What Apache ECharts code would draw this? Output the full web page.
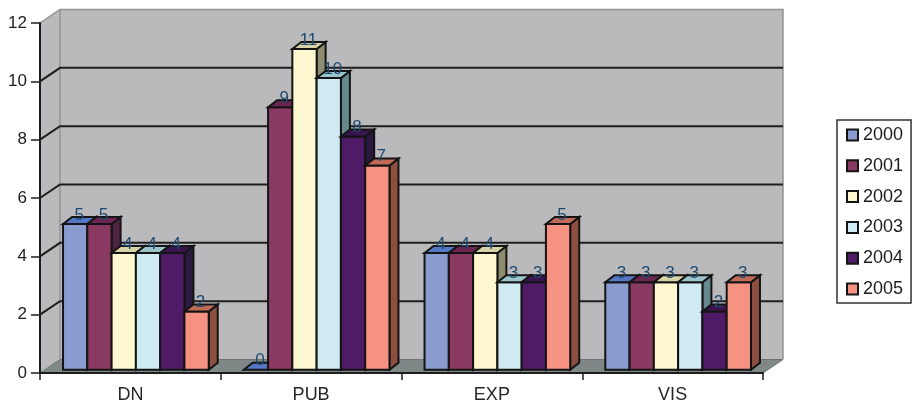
<!DOCTYPE html>
<html>
<head>
<meta charset="utf-8">
<style>html,body{margin:0;padding:0;background:#fff}#chart{width:912px;height:404px}</style>
<script src="https://cdn.jsdelivr.net/npm/echarts@6/dist/echarts.min.js"></script>
</head>
<body>
<div id="chart"></div>
<script>
const categories = ['DN', 'PUB', 'EXP', 'VIS'];
const years = ['2000', '2001', '2002', '2003', '2004', '2005'];
const values2000 = [5, 0, 4, 3];
const values2001 = [5, 9, 4, 3];
const values2002 = [4, 11, 4, 3];
const values2003 = [4, 10, 3, 3];
const values2004 = [4, 8, 3, 2];
const values2005 = [2, 7, 5, 3];
const yearValues = [values2000, values2001, values2002, values2003, values2004, values2005];
const yTicks = [0, 2, 4, 6, 8, 10, 12];

// Front, side and top face shades for each year
const frontColors = ['#8a9bcf', '#8a3a62', '#fdf8d0', '#d0eaf4', '#4f1a66', '#f59282'];
const sideColors = ['#4a5478', '#4f2440', '#8d8c6e', '#65898c', '#2a1a40', '#8d5040'];
const topColors = ['#5577c4', '#6c2550', '#d8d3a6', '#9cc4cc', '#3a1550', '#c06a58'];

// Oblique projection of the 3D box
const wallDx = 20, wallDy = 13.5;
const barDx = 9, barDy = 7;
const groupShare = 0.806;
const edge = { stroke: '#141414', lineWidth: 2 };

function renderWalls(params, api) {
  if (params.dataIndex !== 0) return null;
  const c = params.coordSys;
  const l = c.x, r = c.x + c.width, b = c.y + c.height;
  const children = [
    { type: 'polygon', shape: { points: [[l, c.y], [l + wallDx, c.y - wallDy], [r + wallDx, c.y - wallDy], [r + wallDx, b - wallDy], [l + wallDx, b - wallDy], [l, b]] },
      style: { fill: '#bababc', stroke: null } },
    { type: 'polygon', shape: { points: [[l, b], [l + wallDx, b - wallDy], [r + wallDx, b - wallDy], [r, b]] },
      style: { fill: '#7f8887', stroke: '#6d7474', lineWidth: 1 } },
    { type: 'polyline', shape: { points: [[l, c.y], [l + wallDx, c.y - wallDy], [r + wallDx, c.y - wallDy], [r + wallDx, b - wallDy]] },
      style: { fill: null, stroke: '#8f9494', lineWidth: 1.5 } },
    { type: 'line', shape: { x1: l + wallDx, y1: c.y - wallDy, x2: l + wallDx, y2: b - wallDy },
      style: { stroke: '#8f9494', lineWidth: 1.5 } }
  ];
  yTicks.forEach(function (t) {
    if (t === 0 || t === 12) return;
    const y = api.coord([0, t])[1];
    children.push({ type: 'polyline', shape: { points: [[l, y], [l + wallDx, y - wallDy], [r + wallDx, y - wallDy]] },
      style: { fill: null, stroke: '#1e1e1e', lineWidth: 2 } });
  });
  return { type: 'group', children: children };
}

function barRenderer(yearIndex) {
  return function (params, api) {
    const value = api.value(1);
    const base = api.coord([api.value(0), 0]);
    const top = api.coord([api.value(0), value]);
    const band = api.size([1, 0])[0];
    const w = band * groupShare / 6;
    const offX = (wallDx - barDx) / 2, offY = (wallDy - barDy) / 2;
    const x0 = base[0] - band * groupShare / 2 + yearIndex * w + offX;
    const x1 = x0 + w;
    const y0 = base[1] - offY;
    const y1 = top[1] - offY;
    const children = [];
    if (value > 0) {
      children.push({ type: 'polygon', shape: { points: [[x1, y1], [x1 + barDx, y1 - barDy], [x1 + barDx, y0 - barDy], [x1, y0]] },
        style: Object.assign({ fill: sideColors[yearIndex] }, edge) });
      children.push({ type: 'rect', shape: { x: x0, y: y1, width: w, height: y0 - y1 },
        style: Object.assign({ fill: frontColors[yearIndex] }, edge) });
    }
    children.push({ type: 'polygon', shape: { points: [[x0, y1], [x0 + barDx, y1 - barDy], [x1 + barDx, y1 - barDy], [x1, y1]] },
      style: Object.assign({ fill: topColors[yearIndex] }, edge) });
    children.push({ type: 'text', z2: 50, style: {
      x: (x0 + x1) / 2 + 4, y: y1 - 9, text: String(value), align: 'center', verticalAlign: 'middle',
      font: '17px "Liberation Sans", Arial, sans-serif', fill: '#1f4a70' } });
    return { type: 'group', children: children };
  };
}

const barSeries = years.map(function (year, i) {
  return {
    name: year,
    type: 'custom',
    z: 3,
    clip: false,
    itemStyle: { color: frontColors[i], borderColor: '#141414', borderWidth: 1.5 },
    encode: { x: 0, y: 1 },
    renderItem: barRenderer(i),
    data: yearValues[i].map(function (v, c) { return [c, v]; })
  };
});

const chart = echarts.init(document.getElementById('chart'), null, { renderer: 'canvas' });
chart.setOption({
  animation: false,
  backgroundColor: '#ffffff',
  textStyle: { fontFamily: '"Liberation Sans", Arial, sans-serif' },
  grid: { left: 40, top: 23, width: 723, height: 350, containLabel: false },
  legend: {
    orient: 'vertical',
    left: 837,
    top: 120,
    padding: [6, 8, 5, 9],
    itemWidth: 11,
    itemHeight: 11,
    itemGap: 12.8,
    backgroundColor: '#ffffff',
    borderColor: '#333333',
    borderWidth: 1.5,
    borderRadius: 0,
    icon: 'rect',
    data: years,
    selectedMode: false,
    textStyle: { fontSize: 18, color: '#1c1c1c', padding: [0, 0, 3, 0], lineHeight: 15 }
  },
  xAxis: {
    type: 'category',
    data: categories,
    z: 5,
    boundaryGap: true,
    axisLine: { lineStyle: { color: '#1e1e1e', width: 2 } },
    axisTick: { show: true, length: 7, alignWithLabel: false, lineStyle: { color: '#1e1e1e', width: 1.5 } },
    axisLabel: { fontSize: 18, color: '#262626', margin: 13 },
    splitLine: { show: false }
  },
  yAxis: {
    type: 'value',
    min: 0,
    max: 12,
    interval: 2,
    z: 5,
    axisLine: { show: true, lineStyle: { color: '#1e1e1e', width: 2 } },
    axisTick: { show: true, length: 9, lineStyle: { color: '#1e1e1e', width: 1.5 } },
    axisLabel: { fontSize: 17, color: '#1c1c1c', margin: 13 },
    splitLine: { show: false }
  },
  series: [{
    type: 'custom',
    z: 1,
    clip: false,
    silent: true,
    encode: { x: 0, y: 1 },
    renderItem: renderWalls,
    data: [[0, 0]]
  }].concat(barSeries)
});
</script>
</body>
</html>
